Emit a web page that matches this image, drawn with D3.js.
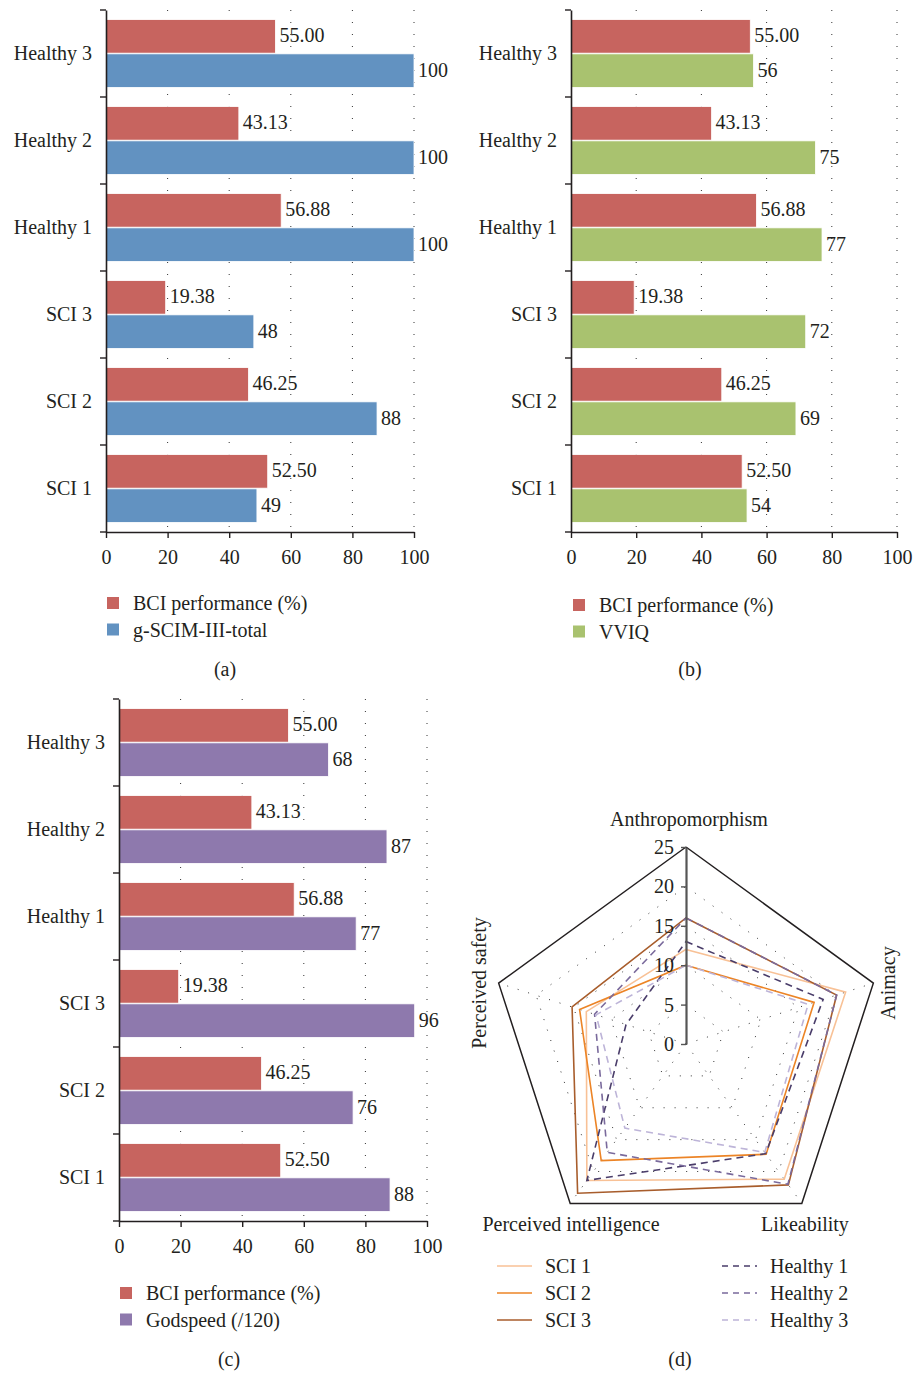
<!DOCTYPE html>
<html><head><meta charset="utf-8">
<script src="https://cdn.jsdelivr.net/npm/d3@7"></script>
<style>
body{margin:0;background:#fff;}
svg text{font-family:"Liberation Serif","DejaVu Serif",serif;fill:#231f20;}
</style></head>
<body><svg id="c" width="913" height="1373"></svg>
<script>
// ---------- DATA ----------
const categories = ["SCI 1","SCI 2","SCI 3","Healthy 1","Healthy 2","Healthy 3"];
const bciPerformance = [52.50, 46.25, 19.38, 56.88, 43.13, 55.00];
const gScim = [49, 88, 48, 100, 100, 100];
const vviq = [54, 69, 72, 77, 75, 56];
const godspeed = [88, 76, 96, 77, 87, 68];
const xTicks = [0, 20, 40, 60, 80, 100];

const radarAxes = ["Anthropomorphism","Animacy","Likeability","Perceived intelligence","Perceived safety"];
const radarTicks = [0, 5, 10, 15, 20, 25];
const radarSeriesNames = ["SCI 1","SCI 2","SCI 3","Healthy 1","Healthy 2","Healthy 3"];
const sci1 = [12, 21.3, 21.2, 21.4, 13.3];
const sci2 = [10, 17.1, 17.3, 18.3, 14.2];
const sci3 = [16, 20.1, 22.1, 23.4, 15.2];
const healthy1 = [13, 18.3, 17.2, 21.4, 8];
const healthy2 = [16, 20.1, 22, 17, 12.2];
const healthy3 = [10, 16.3, 17, 13.2, 12];

// ---------- DRAW ----------
const svg = d3.select("#c");
const FS = 20;
const RED = "#c7645f";

function barPanel(opt){
  const g = svg.append("g");
  const x = d3.scaleLinear().domain([0,100]).range([opt.x0, opt.x1]);
  const y = d3.scaleBand().domain(categories.slice().reverse()).range([opt.y0, opt.y1]).padding(0);
  const sub = d3.scaleBand().domain(["bci","other"]).range([0, y.bandwidth()]).paddingInner(0.02).paddingOuter(0.28);
  // grid
  g.selectAll("line.grid").data(xTicks.slice(1)).join("line")
    .attr("x1", d=>x(d)).attr("x2", d=>x(d)).attr("y1", opt.y0).attr("y2", opt.y1)
    .attr("stroke","#333").attr("stroke-width",1).attr("stroke-dasharray","1,11");
  const rows = categories.map((c,i)=>({c, bci: bciPerformance[i], other: opt.values[i]}));
  const bars = [];
  rows.forEach(r=>{
    bars.push({c:r.c, k:"bci", v:r.bci, fill:RED, label:d3.format(".2f")(r.bci)});
    bars.push({c:r.c, k:"other", v:r.other, fill:opt.color, label:String(r.other)});
  });
  g.selectAll("rect.bar").data(bars).join("rect")
    .attr("x", x(0)).attr("y", d=>y(d.c)+sub(d.k))
    .attr("width", d=>x(d.v)-x(0)).attr("height", sub.bandwidth())
    .attr("fill", d=>d.fill).attr("stroke","#fff").attr("stroke-width",0.8);
  g.selectAll("text.val").data(bars).join("text")
    .attr("x", d=>x(d.v)+4).attr("y", d=>y(d.c)+sub(d.k)+sub.bandwidth()/2 - 1)
    .attr("dy","0.35em").attr("font-size",FS).text(d=>d.label);
  // axes
  const xa = g.append("g").attr("transform",`translate(0,${opt.y1})`)
    .call(d3.axisBottom(x).tickValues(xTicks).tickSize(6).tickPadding(12).tickSizeOuter(0));
  xa.select(".domain").attr("stroke","#231f20").attr("stroke-width",1.6);
  xa.selectAll(".tick line").attr("stroke","#231f20").attr("stroke-width",1.4);
  xa.selectAll("text").attr("font-size",FS).attr("font-family",'"Liberation Serif",serif').attr("fill","#231f20");
  const ya = g.append("g").attr("transform",`translate(${opt.x0},0)`)
    .call(d3.axisLeft(y).tickSize(0).tickPadding(14));
  ya.select(".domain").attr("stroke","#231f20").attr("stroke-width",1.6);
  ya.selectAll("text").attr("font-size",FS).attr("font-family",'"Liberation Serif",serif').attr("fill","#231f20");
  // band boundary ticks
  const bounds = categories.map(c=>y(c)).concat([opt.y1]);
  g.selectAll("line.bt").data(bounds).join("line")
    .attr("x1", opt.x0-6).attr("x2", opt.x0).attr("y1", d=>d).attr("y2", d=>d)
    .attr("stroke","#231f20").attr("stroke-width",1.4);
  // legend
  const leg = [{t:"BCI performance (%)", c:RED},{t:opt.name, c:opt.color}];
  leg.forEach((l,i)=>{
    g.append("rect").attr("x",opt.lx).attr("y",opt.ly+i*26.5-6).attr("width",12).attr("height",12).attr("fill",l.c);
    g.append("text").attr("x",opt.lx+26).attr("y",opt.ly+i*26.5).attr("dy","0.35em").attr("font-size",FS).text(l.t);
  });
  g.append("text").attr("x",opt.capx).attr("y",opt.capy).attr("text-anchor","middle").attr("font-size",FS).text(opt.cap);
}

barPanel({x0:106, x1:414, y0:10, y1:532, values:gScim, color:"#6292c1", name:"g-SCIM-III-total", lx:107, ly:603, capx:225, capy:676, cap:"(a)"});
barPanel({x0:571, x1:897, y0:10, y1:532, values:vviq, color:"#a9c26f", name:"VVIQ", lx:573, ly:605, capx:690, capy:676, cap:"(b)"});
barPanel({x0:119, x1:427, y0:699, y1:1221, values:godspeed, color:"#8e79ad", name:"Godspeed (/120)", lx:120, ly:1293, capx:229, capy:1366, cap:"(c)"});

// ---------- RADAR ----------
const cx = 686, cy = 1044;
const r = d3.scaleLinear().domain([0,25]).range([0,197]);
const ang = i => i*2*Math.PI/5;
const pt = (i,v) => [cx + r(v)*Math.sin(ang(i)), cy - r(v)*Math.cos(ang(i))];
const rg = svg.append("g");
// dotted inner rings
radarTicks.filter(t=>t>0 && t<25).forEach(t=>{
  rg.append("path").attr("d", d3.line()(d3.range(5).map(i=>pt(i,t)).concat([pt(0,t)])))
    .attr("fill","none").attr("stroke","#333").attr("stroke-width",1).attr("stroke-dasharray","1,10");
});
// dotted spokes
d3.range(1,5).forEach(i=>{
  rg.append("line").attr("x1",cx).attr("y1",cy).attr("x2",pt(i,25)[0]).attr("y2",pt(i,25)[1])
    .attr("stroke","#333").attr("stroke-width",1).attr("stroke-dasharray","1,10");
});
// outer ring
rg.append("path").attr("d", d3.line()(d3.range(5).map(i=>pt(i,25)).concat([pt(0,25)])))
  .attr("fill","none").attr("stroke","#231f20").attr("stroke-width",1.5);

const radarData = [sci1, sci2, sci3, healthy1, healthy2, healthy3];
const radarColors = ["#f8c196","#ec8426","#a85d2c","#4a3d6a","#7a6a9c","#bdb4d8"];
const radarDash = [null,null,null,"7,5","7,5","7,5"];
const radial = d3.lineRadial().angle((d,i)=>ang(i)).radius(d=>r(d)).curve(d3.curveLinearClosed);
radarData.forEach((s,k)=>{
  rg.append("path").attr("transform",`translate(${cx},${cy})`).attr("d", radial(s))
    .attr("fill","none").attr("stroke",radarColors[k]).attr("stroke-width",1.6)
    .attr("stroke-dasharray",radarDash[k]);
});
// vertical value axis
const ra = rg.append("g").attr("transform",`translate(${cx},0)`)
  .call(d3.axisLeft(d3.scaleLinear().domain([0,25]).range([cy, cy-197])).tickValues(radarTicks).tickSize(5).tickPadding(7).tickSizeOuter(0));
ra.select(".domain").attr("stroke","#555").attr("stroke-width",2.2);
ra.selectAll(".tick line").attr("stroke","#555").attr("stroke-width",1.4);
ra.selectAll("text").attr("font-size",FS).attr("font-family",'"Liberation Serif",serif').attr("fill","#231f20");

// axis labels
rg.append("text").attr("x",689).attr("y",826).attr("text-anchor","middle").attr("font-size",FS).text(radarAxes[0]);
rg.append("text").attr("transform","translate(888,983) rotate(-90)").attr("text-anchor","middle").attr("dy","0.35em").attr("font-size",FS).text(radarAxes[1]);
rg.append("text").attr("x",805).attr("y",1231).attr("text-anchor","middle").attr("font-size",FS).text(radarAxes[2]);
rg.append("text").attr("x",571).attr("y",1231).attr("text-anchor","middle").attr("font-size",FS).text(radarAxes[3]);
rg.append("text").attr("transform","translate(479,983) rotate(-90)").attr("text-anchor","middle").attr("dy","0.35em").attr("font-size",FS).text(radarAxes[4]);

// legend
radarSeriesNames.forEach((n,k)=>{
  const col = k<3 ? 0 : 1, row = k%3;
  const lx = col ? 722 : 497, ly = 1266 + row*27;
  rg.append("line").attr("x1",lx).attr("x2",lx+35).attr("y1",ly).attr("y2",ly)
    .attr("stroke",radarColors[k]).attr("stroke-width",1.6).attr("stroke-dasharray",radarDash[k] ? "6,5" : null);
  rg.append("text").attr("x",lx+48).attr("y",ly).attr("dy","0.35em").attr("font-size",FS).text(n);
});
rg.append("text").attr("x",680).attr("y",1366).attr("text-anchor","middle").attr("font-size",FS).text("(d)");
</script></body></html>
